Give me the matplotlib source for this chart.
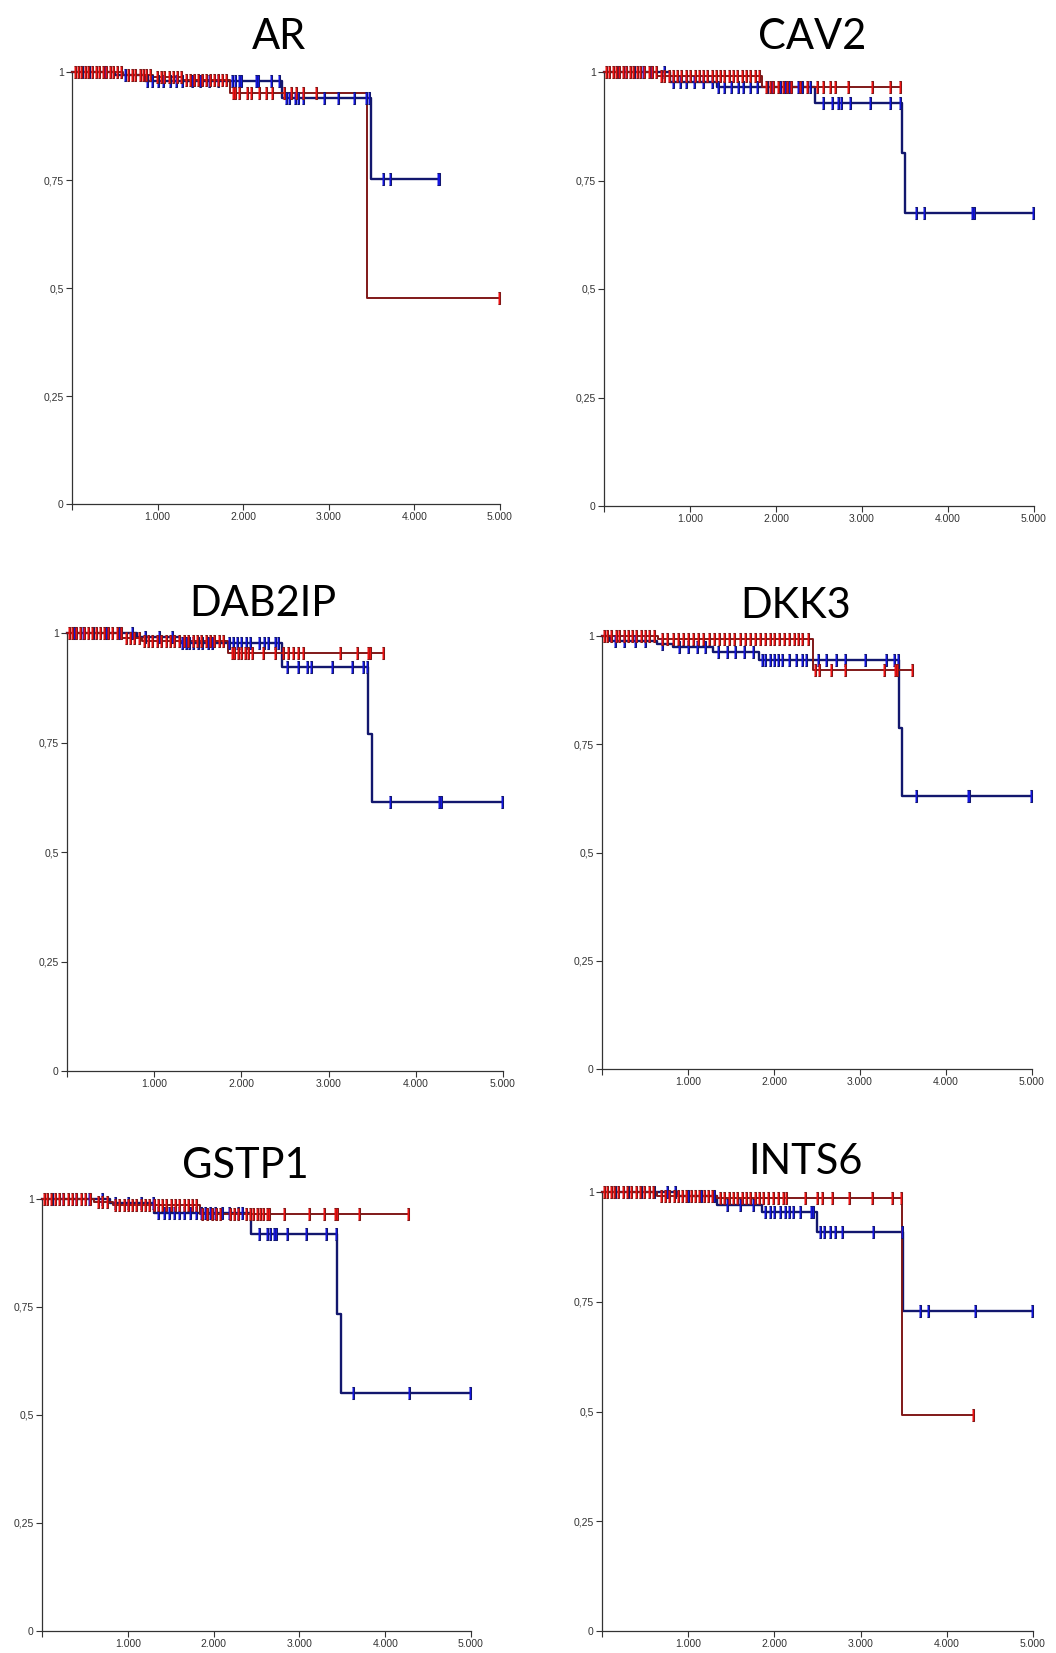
import numpy as np
import matplotlib
matplotlib.use("Agg")
from matplotlib import pyplot as plt

# ---- data ----
TITLES = ["AR", "CAV2", "DAB2IP", "DKK3", "GSTP1", "INTS6"]
X_TICKS = [0, 1000, 2000, 3000, 4000, 5000]
X_LABELS = ["", "1.000", "2.000", "3.000", "4.000", "5.000"]
Y_TICKS = [0, 0.25, 0.5, 0.75, 1]
Y_LABELS = ["0", "0,25", "0,5", "0,75", "1"]

# AR
ar_red_t = [0, 600, 950, 1300, 1850, 3450, 4990]
ar_red_s = [1.0, 0.993, 0.988, 0.981, 0.951, 0.478, 0.478]
ar_red_c = [30, 70, 110, 150, 190, 230, 280, 320, 360, 400, 440, 480, 530, 570, 650, 700,
            740, 790, 830, 870, 910, 990, 1040, 1080, 1130, 1180, 1230, 1270, 1330, 1380,
            1420, 1470, 1520, 1570, 1610, 1660, 1700, 1750, 1800, 1880, 1910, 1950, 2040,
            2090, 2180, 2270, 2340, 2480, 2560, 2620, 2700, 2850, 4990]
ar_blue_t = [0, 500, 850, 2450, 3490, 4290]
ar_blue_s = [1.0, 0.993, 0.979, 0.940, 0.752, 0.752]
ar_blue_c = [120, 200, 380, 620, 880, 940, 1000, 1060, 1150, 1210, 1290, 1400, 1500, 1600,
             1700, 1870, 1900, 1950, 1980, 2150, 2170, 2330, 2420, 2500, 2540, 2600, 2640,
             2700, 2940, 3110, 3300, 3440, 3470, 3630, 3720, 4270, 4290]

# CAV2
cav2_red_t = [0, 620, 1840, 3440]
cav2_red_s = [1.0, 0.990, 0.965, 0.965]
cav2_red_c = [20, 60, 100, 140, 180, 220, 260, 300, 340, 380, 420, 470, 520, 560, 600, 660,
              700, 760, 800, 850, 900, 950, 1000, 1060, 1100, 1150, 1200, 1250, 1300, 1350,
              1400, 1450, 1500, 1550, 1600, 1650, 1700, 1750, 1800, 1880, 1930, 1970, 2020,
              2080, 2130, 2180, 2280, 2360, 2480, 2550, 2630, 2690, 2840, 3120, 3330, 3440]
cav2_blue_t = [0, 770, 1310, 2450, 3465, 3500, 4990]
cav2_blue_s = [1.0, 0.978, 0.966, 0.928, 0.813, 0.675, 0.675]
cav2_blue_c = [150, 250, 350, 450, 550, 700, 800, 880, 950, 1050, 1150, 1250, 1330, 1400,
               1480, 1560, 1620, 1700, 1780, 1900, 1950, 2050, 2100, 2150, 2250, 2300, 2400,
               2550, 2650, 2720, 2760, 2860, 3090, 3330, 3440, 3630, 3720, 4280, 4300, 4990]

# DAB2IP
dab_red_t = [0, 630, 860, 1845, 3620]
dab_red_s = [1.0, 0.988, 0.982, 0.954, 0.954]
dab_red_c = [20, 60, 100, 150, 200, 240, 290, 330, 380, 420, 470, 520, 570, 620, 680, 720,
             770, 820, 880, 930, 980, 1030, 1080, 1130, 1180, 1230, 1280, 1340, 1390, 1440,
             1490, 1540, 1590, 1640, 1690, 1740, 1790, 1890, 1920, 1960, 2000, 2040, 2080,
             2120, 2250, 2390, 2480, 2530, 2590, 2650, 2710, 3130, 3330, 3450, 3480, 3620]
dab_blue_t = [0, 800, 1300, 2460, 3450, 3495, 4990]
dab_blue_s = [1.0, 0.990, 0.977, 0.923, 0.769, 0.615, 0.615]
dab_blue_c = [80, 180, 300, 450, 600, 750, 900, 1050, 1200, 1320, 1360, 1400, 1450, 1500,
              1550, 1620, 1660, 1860, 1900, 1950, 2000, 2050, 2100, 2200, 2260, 2300, 2380,
              2420, 2520, 2650, 2750, 2800, 3040, 3270, 3390, 3440, 3700, 4270, 4290, 4990]

# DKK3
dkk_red_t = [0, 650, 2450, 3610]
dkk_red_s = [1.0, 0.994, 0.922, 0.922]
dkk_red_c = [20, 60, 110, 160, 200, 250, 300, 350, 400, 450, 500, 550, 600, 700, 760, 820,
             880, 940, 1000, 1060, 1120, 1180, 1240, 1300, 1360, 1420, 1480, 1540, 1600,
             1660, 1720, 1780, 1840, 1900, 1950, 2000, 2060, 2120, 2170, 2230, 2280, 2330,
             2400, 2480, 2520, 2660, 2820, 3280, 3410, 3430, 3610]
dkk_blue_t = [0, 90, 640, 820, 1290, 1830, 3450, 3490, 4990]
dkk_blue_s = [1.0, 0.989, 0.981, 0.975, 0.964, 0.944, 0.787, 0.63, 0.63]
dkk_blue_c = [150, 250, 380, 500, 700, 900, 1000, 1100, 1200, 1350, 1450, 1550, 1650, 1750,
              1860, 1900, 1950, 2000, 2050, 2090, 2170, 2260, 2320, 2370, 2510, 2600, 2720,
              2820, 3060, 3300, 3400, 3440, 3650, 4250, 4270, 4990]

# GSTP1
gst_red_t = [0, 610, 830, 1840, 4260]
gst_red_s = [1.0, 0.992, 0.986, 0.965, 0.965]
gst_red_c = [20, 60, 100, 150, 200, 250, 300, 350, 400, 450, 500, 560, 650, 700, 760, 850,
             900, 950, 1000, 1050, 1100, 1150, 1200, 1250, 1300, 1350, 1400, 1450, 1500,
             1550, 1600, 1650, 1700, 1750, 1800, 1870, 1920, 1980, 2030, 2070, 2190, 2240,
             2280, 2380, 2420, 2460, 2500, 2540, 2580, 2620, 2650, 2820, 3110, 3290, 3420,
             3440, 3700, 4260]
gst_blue_t = [0, 790, 1300, 2440, 3440, 3490, 4990]
gst_blue_s = [1.0, 0.990, 0.968, 0.918, 0.734, 0.551, 0.551]
gst_blue_c = [120, 250, 400, 550, 700, 850, 1000, 1150, 1290, 1350, 1420, 1480, 1540, 1600,
              1660, 1720, 1800, 1850, 1900, 1960, 2020, 2100, 2180, 2280, 2330, 2530, 2620,
              2660, 2700, 2730, 2850, 3080, 3310, 3430, 3630, 4280, 4990]

# INTS6
int_red_t = [0, 640, 1330, 3480, 4300]
int_red_s = [1.0, 0.990, 0.986, 0.493, 0.493]
int_red_c = [20, 60, 100, 140, 190, 240, 290, 340, 390, 440, 490, 540, 590, 680, 730, 780,
             830, 880, 930, 980, 1030, 1080, 1130, 1180, 1230, 1280, 1370, 1420, 1470, 1520,
             1570, 1620, 1670, 1720, 1770, 1820, 1870, 1920, 1980, 2040, 2100, 2140, 2350,
             2490, 2550, 2670, 2870, 3130, 3360, 3470, 4300]
int_blue_t = [0, 880, 1330, 1860, 2490, 3490, 4990]
int_blue_s = [1.0, 0.990, 0.970, 0.955, 0.910, 0.728, 0.728]
int_blue_c = [150, 300, 450, 600, 750, 850, 1000, 1150, 1300, 1450, 1600, 1750, 1890, 1950,
              2000, 2060, 2120, 2170, 2210, 2300, 2420, 2450, 2530, 2580, 2640, 2700, 2790,
              3140, 3480, 3690, 3780, 4330, 4990]

PANELS = {
    "AR": (ar_red_t, ar_red_s, ar_red_c, ar_blue_t, ar_blue_s, ar_blue_c),
    "CAV2": (cav2_red_t, cav2_red_s, cav2_red_c, cav2_blue_t, cav2_blue_s, cav2_blue_c),
    "DAB2IP": (dab_red_t, dab_red_s, dab_red_c, dab_blue_t, dab_blue_s, dab_blue_c),
    "DKK3": (dkk_red_t, dkk_red_s, dkk_red_c, dkk_blue_t, dkk_blue_s, dkk_blue_c),
    "GSTP1": (gst_red_t, gst_red_s, gst_red_c, gst_blue_t, gst_blue_s, gst_blue_c),
    "INTS6": (int_red_t, int_red_s, int_red_c, int_blue_t, int_blue_s, int_blue_c),
}

# ---- layout in pixels of the 1056x1653 canvas ----
W, H = 1056, 1653
# x at 0, x at 5000, y at 1, y at 0
BOXES = {
    "AR": (72, 500, 72, 504),
    "CAV2": (604, 1034, 72, 506),
    "DAB2IP": (67, 503, 633, 1071),
    "DKK3": (602, 1032, 636, 1069),
    "GSTP1": (42, 471, 1199, 1631),
    "INTS6": (602, 1033, 1192, 1631),
}
TITLE_POS = {
    "AR": (279, 37), "CAV2": (812, 37),
    "DAB2IP": (263, 604), "DKK3": (796, 606),
    "GSTP1": (245, 1166), "INTS6": (805, 1162),
}

RED_LINE, RED_FILL = "#801818", "#f01010"
BLUE_LINE, BLUE_FILL = "#12176e", "#1414e0"
TICK_MARK = [(-0.13, -0.5), (0.13, -0.5), (0.13, 0.5), (-0.13, 0.5)]


def step_value(t, s, x):
    idx = np.searchsorted(np.asarray(t), np.asarray(x), side="right") - 1
    return np.asarray(s)[idx]


def draw_group(ax, t, s, c, line_col, fill_col, lw):
    ax.step(t, s, where="post", color=line_col, lw=lw, clip_on=False, zorder=3)
    ax.plot(c, step_value(t, s, c), ls="none", marker=TICK_MARK, ms=8,
            mfc=fill_col, mec=line_col, mew=0.75, clip_on=False, zorder=4)


fig = plt.figure(figsize=(W / 100, H / 100), dpi=100)

for name in TITLES:
    x0, x1, ytop, ybot = BOXES[name]
    ax = fig.add_axes([x0 / W, 1 - ybot / H, (x1 - x0) / W, (ybot - ytop) / H])
    red_t, red_s, red_c, blue_t, blue_s, blue_c = PANELS[name]
    draw_group(ax, blue_t, blue_s, blue_c, BLUE_LINE, BLUE_FILL, 1.7)
    draw_group(ax, red_t, red_s, red_c, RED_LINE, RED_FILL, 1.4)

    ax.set_xlim(0, 5000)
    ax.set_ylim(0, 1)
    ax.set_xticks(X_TICKS)
    ax.set_xticklabels(X_LABELS)
    ax.set_yticks(Y_TICKS)
    ax.set_yticklabels(Y_LABELS)
    for side in ["top", "right"]:
        ax.spines[side].set_visible(False)
    for side in ["left", "bottom"]:
        ax.spines[side].set_color("#333333")
        ax.spines[side].set_linewidth(0.9)
    ax.tick_params(length=4, width=0.8, color="#333333", labelcolor="#333333",
                   labelsize=7.5, pad=2)
    for lab in ax.get_xticklabels() + ax.get_yticklabels():
        lab.set_family("Liberation Sans")

    tx, ty = TITLE_POS[name]
    fig.text(tx / W, 1 - ty / H, name, ha="center", va="center",
             fontsize=30, family=["Lato", "DejaVu Sans"])

fig.savefig("out.png", dpi=100)
